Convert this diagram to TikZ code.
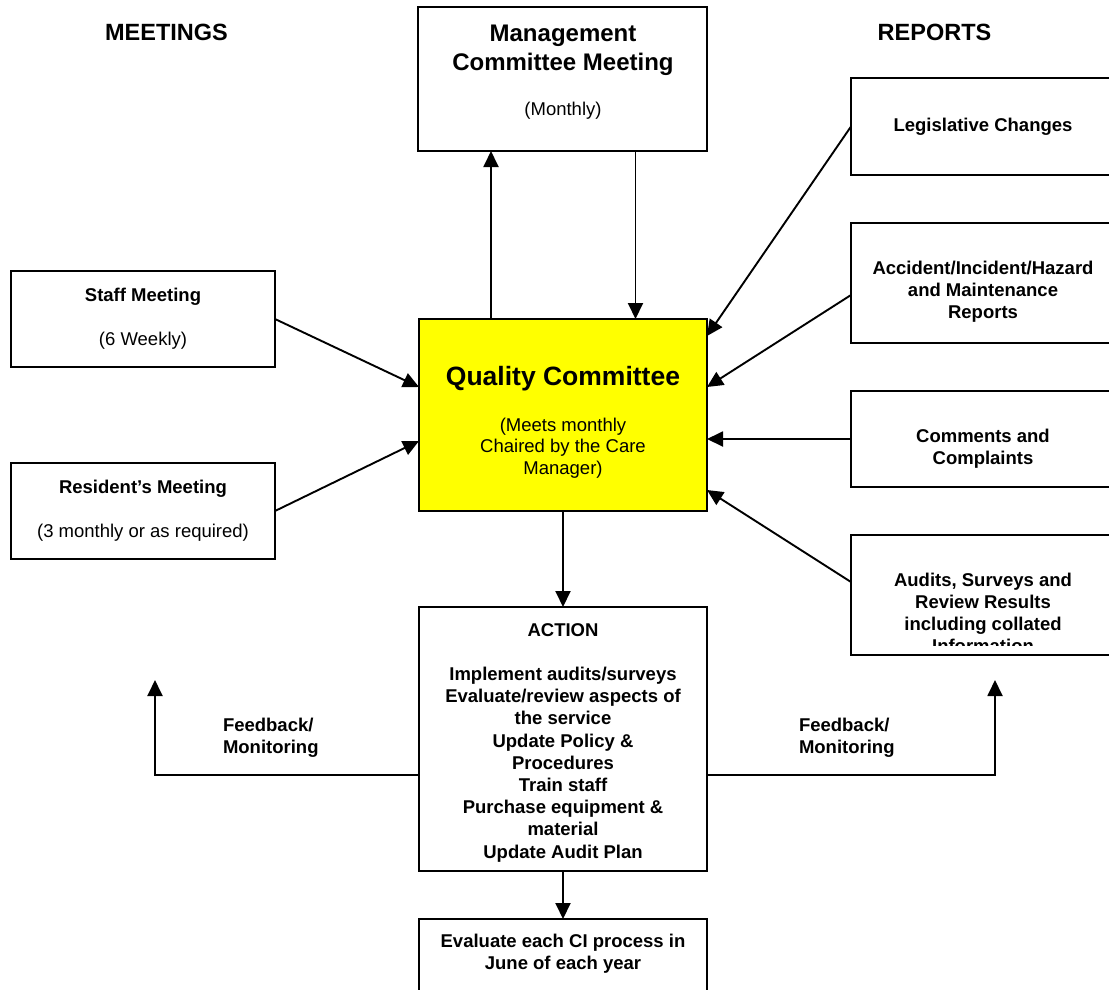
\documentclass[tikz,border=0pt]{standalone}
\usepackage{fontspec}
\setmainfont{Liberation Sans}
\usetikzlibrary{arrows.meta,calc}
\definecolor{qyellow}{HTML}{FFFF00}
\newcommand\cstack[1]{\vtop{\halign{\hfil##\hfil\cr#1\crcr}}}
\newcommand\lstack[1]{\vtop{\halign{##\hfil\cr#1\crcr}}}
\begin{document}
\begin{tikzpicture}[x=1pt,y=-1pt,
  box/.style={draw, line width=2.2pt, inner sep=0pt, outer sep=0pt, anchor=north west},
  arr/.style={line width=1.9pt, -{Triangle[length=16pt,width=15pt]}},
  t/.style={anchor=base, inner sep=0pt, outer sep=0pt},
  hdr/.style={font={\fontsize{23.5}{28}\selectfont\bfseries}},
  sb/.style={font={\fontsize{18.5}{22}\selectfont\bfseries}},
  sr/.style={font={\fontsize{18.5}{21.5}\selectfont}},
]
\useasboundingbox (0,0) rectangle (1109,989);
\clip (0,0) rectangle (1109,989);

% boxes
\node[box, minimum width=289pt, minimum height=144pt] (mgmt) at (418,7) {};
\node[box, fill=qyellow, minimum width=288pt, minimum height=192pt] (qc) at (419,319) {};
\node[box, minimum width=264pt, minimum height=96pt] (staff) at (11,271) {};
\node[box, minimum width=264pt, minimum height=96pt] (res) at (11,463) {};
\node[box, minimum width=270pt, minimum height=97pt] (leg) at (851,78) {};
\node[box, minimum width=270pt, minimum height=120pt] (acc) at (851,223) {};
\node[box, minimum width=270pt, minimum height=96pt] (com) at (851,391) {};
\node[box, minimum width=270pt, minimum height=120pt] (aud) at (851,535) {};
\node[box, minimum width=288pt, minimum height=264pt] (action) at (419,607) {};
\node[box, minimum width=288pt, minimum height=90pt] (eval) at (419,919) {};

% texts
\node[t, hdr] (tmeet) at (166.5,40) {MEETINGS};
\node[t, hdr] (trep) at (934.5,40) {REPORTS};
\node[t, font={\fontsize{24}{29}\selectfont\bfseries}] (tmg) at (563,41)
  {\cstack{Management\cr Committee Meeting}};
\node[t, sr] (tmon) at (563,115) {(Monthly)};
\node[t, sb] (tstaff) at (143,301) {Staff Meeting};
\node[t, sr] (tstaff2) at (143,345) {(6 Weekly)};
\node[t, sb] (tres) at (143,493) {Resident’s Meeting};
\node[t, sr] (tres2) at (143,537) {(3 monthly or as required)};
\node[t, font={\fontsize{26.5}{32}\selectfont\bfseries}] (tqc) at (563,385) {Quality Committee};
\node[t, sr] (tqc2) at (563,431)
  {\cstack{(Meets monthly\cr Chaired by the Care\cr Manager)}};
\node[t, sb] (tleg) at (983,131) {Legislative Changes};
\node[t, sb] (tacc) at (983,274)
  {\cstack{Accident/Incident/Hazard\cr and Maintenance\cr Reports}};
\node[t, sb] (tcom) at (983,442) {\cstack{Comments and\cr Complaints}};
\begin{scope}
  \clip (851,535) rectangle (1109,645);
  \node[t, sb] (taud) at (983,586)
    {\cstack{Audits, Surveys and\cr Review Results\cr including collated\cr Information}};
\end{scope}
\node[t, font={\fontsize{18.5}{22.2}\selectfont\bfseries}] (tact) at (563,636)
  {\cstack{ACTION\cr\cr Implement audits/surveys\cr Evaluate/review aspects of\cr the service\cr
   Update Policy \&\cr Procedures\cr Train staff\cr Purchase equipment \&\cr material\cr Update Audit Plan}};
\node[t, sb] (teval) at (563,947) {\cstack{Evaluate each CI process in\cr June of each year}};
\node[t, sb, anchor=base west] (fbl) at (223,731) {\lstack{Feedback/\cr Monitoring}};
\node[t, sb, anchor=base west] (fbr) at (799,731) {\lstack{Feedback/\cr Monitoring}};

% connectors
\draw[arr] ([xshift=-72pt]qc.north) -- ([xshift=-72pt]qc.north |- mgmt.south);
\draw[arr] ([xshift=73pt]mgmt.south) -- ([xshift=73pt]mgmt.south |- qc.north);
\draw[arr] (staff.east) -- ([yshift=28pt]qc.west);
\draw[arr] (res.east) -- ([yshift=-26pt]qc.west);
\draw[arr] (leg.west) -- ([yshift=79pt]qc.east);
\draw[arr] ([yshift=-12pt]acc.west) -- ([yshift=28pt]qc.east);
\draw[arr] (com.west) -- (com.west -| qc.east);
\draw[arr] ([yshift=13pt]aud.west) -- ([yshift=-75pt]qc.east);
\draw[arr] (qc.south) -- (action.north);
\draw[arr] (action.south) -- (eval.north);
\coordinate (fbL) at (155,680);
\coordinate (fbR) at (995,680);
\draw[arr] ([yshift=-36pt]action.west) -| (fbL);
\draw[arr] ([yshift=-36pt]action.east) -| (fbR);
\end{tikzpicture}
\end{document}
